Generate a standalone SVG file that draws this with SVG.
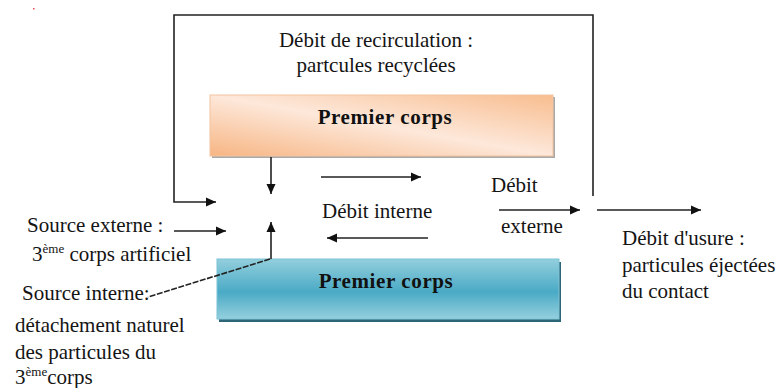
<svg xmlns="http://www.w3.org/2000/svg" width="779" height="388" viewBox="0 0 779 388">
  <style>
    .lbl { fill: #141414; }
    .head { font-weight: bold; fill: #111; }
    .ln { fill: none; stroke: #222; stroke-width: 1.6; }
  </style>
  <defs>
    <marker id="ah" viewBox="0 0 10 10" refX="10" refY="5" markerWidth="10" markerHeight="10" markerUnits="userSpaceOnUse" orient="auto">
      <path d="M0,0.5 L10,5 L0,9.5 Z" fill="#111"/>
    </marker>
    <linearGradient id="peach" x1="1" y1="0" x2="0" y2="1">
      <stop offset="0" stop-color="#f8bd8f"/>
      <stop offset="0.5" stop-color="#fde8da"/>
      <stop offset="1" stop-color="#f7b583"/>
    </linearGradient>
    <linearGradient id="teal" x1="0" y1="0" x2="0" y2="1">
      <stop offset="0" stop-color="#93cfdd"/>
      <stop offset="0.55" stop-color="#4aaac5"/>
      <stop offset="1" stop-color="#95d0de"/>
    </linearGradient>
  </defs>

  <rect x="33" y="8" width="1.5" height="1.5" fill="#e05050"/>

  <!-- upper first body -->
  <g id="premier-corps-haut">
    <rect x="212" y="97" width="343" height="61" fill="#a9a9a9"/>
    <rect x="210" y="95" width="343" height="61" fill="url(#peach)" stroke="#f3c4a0" stroke-width="1"/>
    <text class="head" font-family="Liberation Serif, serif" font-size="21" x="385" y="124" text-anchor="middle" letter-spacing="0.6">Premier corps</text>
  </g>

  <!-- lower first body -->
  <g id="premier-corps-bas">
    <rect x="219" y="262" width="342" height="60" fill="#2e6677"/>
    <rect x="217" y="259" width="342" height="60" fill="url(#teal)" stroke="#7cc3d6" stroke-width="1"/>
    <text class="head" font-family="Liberation Serif, serif" font-size="21" x="386" y="288" text-anchor="middle" letter-spacing="0.6">Premier corps</text>
  </g>

  <!-- labels -->
  <g id="recirculation">
    <text class="lbl" font-family="Liberation Serif, serif" font-size="21" x="376" y="47" text-anchor="middle">Débit de recirculation :</text>
    <text class="lbl" font-family="Liberation Serif, serif" font-size="21" x="376" y="72" text-anchor="middle">partcules recyclées</text>
  </g>
  <g id="debit-interne">
    <text class="lbl" font-family="Liberation Serif, serif" font-size="21" x="322" y="218">Débit interne</text>
  </g>
  <g id="debit-externe">
    <text class="lbl" font-family="Liberation Serif, serif" font-size="21" x="491" y="192">Débit</text>
    <text class="lbl" font-family="Liberation Serif, serif" font-size="21" x="501" y="233">externe</text>
  </g>
  <g id="debit-usure">
    <text class="lbl" font-family="Liberation Serif, serif" font-size="21" x="622" y="245">Débit d'usure :</text>
    <text class="lbl" font-family="Liberation Serif, serif" font-size="21" x="622" y="272">particules éjectées</text>
    <text class="lbl" font-family="Liberation Serif, serif" font-size="21" x="622" y="298">du contact</text>
  </g>
  <g id="source-externe">
    <text class="lbl" font-family="Liberation Serif, serif" font-size="21" x="27" y="232">Source externe :</text>
    <text class="lbl" font-family="Liberation Serif, serif" font-size="21" x="32" y="261">3<tspan font-size="13" dy="-8">ème</tspan><tspan dy="8"> corps artificiel</tspan></text>
  </g>
  <g id="source-interne">
    <text class="lbl" font-family="Liberation Serif, serif" font-size="21" x="22" y="300">Source interne:</text>
    <text class="lbl" font-family="Liberation Serif, serif" font-size="21" x="15" y="332">détachement naturel</text>
    <text class="lbl" font-family="Liberation Serif, serif" font-size="21" x="15" y="359">des particules du</text>
    <text class="lbl" font-family="Liberation Serif, serif" font-size="21" x="15" y="384">3<tspan font-size="13" dy="-8">ème</tspan><tspan dy="8">corps</tspan></text>
  </g>

  <!-- connectors -->
  <g id="connectors">
    <polyline class="ln" points="593,196 593,15 174,15 174,202 216,202" marker-end="url(#ah)"/>
    <line class="ln" x1="271" y1="157" x2="271" y2="194" marker-end="url(#ah)"/>
    <line class="ln" x1="271" y1="259" x2="271" y2="222" marker-end="url(#ah)"/>
    <line class="ln" x1="321" y1="177" x2="421" y2="177" marker-end="url(#ah)"/>
    <line class="ln" x1="428" y1="238" x2="327" y2="238" marker-end="url(#ah)"/>
    <line class="ln" x1="174" y1="231" x2="226" y2="231" marker-end="url(#ah)"/>
    <line class="ln" x1="499" y1="210" x2="580" y2="210" marker-end="url(#ah)"/>
    <line class="ln" x1="597" y1="210" x2="701" y2="210" marker-end="url(#ah)"/>
    <line class="ln" x1="270" y1="259" x2="148" y2="297" stroke-width="1.2" stroke-dasharray="6 1.5"/>
  </g>
</svg>
